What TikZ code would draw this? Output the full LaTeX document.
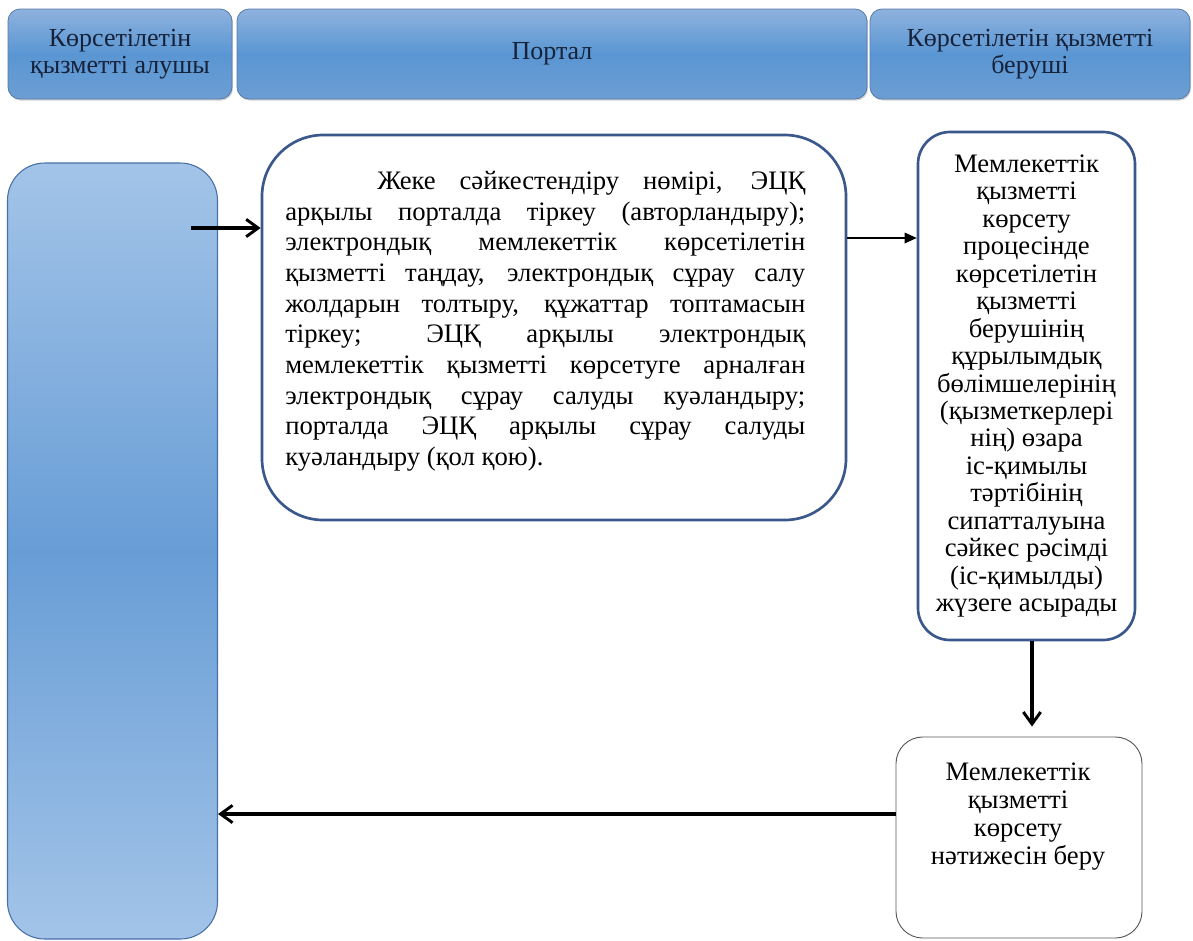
\documentclass[tikz,border=0pt]{standalone}
\usepackage{fontspec}
\setmainfont{Liberation Serif}
\usetikzlibrary{arrows.meta,shadows}
\definecolor{boxline}{RGB}{58,88,140}
\definecolor{hdtop}{RGB}{142,178,222}
\definecolor{hdmid}{RGB}{90,150,211}
\definecolor{hdbot}{RGB}{108,158,211}
\definecolor{hdline}{RGB}{88,122,168}
\definecolor{hdtext}{RGB}{22,34,58}
\definecolor{bartop}{RGB}{163,196,232}
\definecolor{barmid}{RGB}{104,157,214}
\definecolor{barline}{RGB}{72,112,168}
\newlength\tw
\setlength\tw{390pt}
\newcommand\jl[1]{\makebox[\tw][s]{#1}}
\begin{document}
\begin{tikzpicture}[x=0.75pt,y=-0.75pt,
  header/.style={draw=hdline, line width=0.6pt, rounded corners=9pt,
    top color=hdtop, bottom color=hdbot, middle color=hdmid,
    minimum height=67.5pt, inner sep=0pt, align=center,
    font=\fontsize{19.5pt}{20pt}\selectfont, text=hdtext,
    drop shadow={shadow xshift=0.8pt, shadow yshift=-1.2pt, opacity=0.35}},
  procbox/.style={draw=boxline, line width=2pt, fill=white, inner sep=0pt},
  thickarrow/.style={line width=2.4pt, -{Straight Barb[length=9pt,width=13pt,line width=2.2pt]}},
  thinarrow/.style={line width=0.9pt, -{Triangle[length=9pt,width=8pt]}}
]
\useasboundingbox (0,0) rectangle (1193,940);
% headers
\node[header, minimum width=168pt] (h1) at (120,54) {Көрсетілетін\\қызметті алушы};
\node[header, minimum width=472.5pt] (h2) at (552,54) {Портал};
\node[header, minimum width=240pt] (h3) at (1030,54) {Көрсетілетін қызметті\\беруші};
% left bar
\node[draw=barline, line width=0.8pt, rounded corners=28pt, top color=bartop, bottom color=bartop, middle color=barmid,
  minimum width=157.5pt, minimum height=582pt, inner sep=0pt] (bar) at (112.5,551) {};
% portal box
\node[procbox, rounded corners=46pt, minimum width=438pt, minimum height=288.75pt] (b2) at (554,327.5) {};
\node[anchor=north west, inner sep=0pt, align=left, font=\fontsize{20pt}{23pt}\selectfont] (t2) at (285,171) {%
\jl{\hspace*{69pt}Жеке сәйкестендіру нөмірі, ЭЦҚ}\\
\jl{арқылы порталда тіркеу (авторландыру);}\\
\jl{электрондық мемлекеттік көрсетілетін}\\
\jl{қызметті таңдау, электрондық сұрау салу}\\
\jl{жолдарын толтыру, құжаттар топтамасын}\\
\jl{тіркеу; ЭЦҚ арқылы электрондық}\\
\jl{мемлекеттік қызметті көрсетуге арналған}\\
\jl{электрондық сұрау салуды куәландыру;}\\
\jl{порталда ЭЦҚ арқылы сұрау салуды}\\
куәландыру (қол қою).};
% provider box
\node[procbox, rounded corners=24pt, minimum width=162.75pt, minimum height=381pt, align=center,
  font=\fontsize{20pt}{20.6pt}\selectfont] (b3) at (1026.5,386) {Мемлекеттік\\қызметті\\көрсету\\процесінде\\көрсетілетін\\қызметті\\берушінің\\құрылымдық\\бөлімшелерінің\\(қызметкерлері\\нің) өзара\\іс-қимылы\\тәртібінің\\сипатталуына\\сәйкес рәсімді\\(іс-қимылды)\\жүзеге асырады};
% result box
\node[draw=black!65, line width=0.7pt, fill=white, rounded corners=20pt, minimum width=184.5pt, minimum height=150.75pt, inner sep=0pt] (b4) at (1019,837.5) {};
\node[align=center, inner sep=0pt, font=\fontsize{20pt}{21pt}\selectfont] (t4) at (1018,817) {Мемлекеттік\\қызметті\\көрсету\\нәтижесін беру};
% connectors
\coordinate (a1) at (191,228);
\coordinate (a2) at (0,238);
\coordinate (a3) at (1032,0);
\coordinate (a4) at (0,814);
\draw[thickarrow] (a1) -- (a1 -| b2.west);
\draw[thinarrow] (a2 -| b2.east) -- (a2 -| b3.west);
\draw[thickarrow, shorten >=7.5pt] (a3 |- b3.south) -- (a3 |- b4.north);
\draw[thickarrow] (a4 -| b4.west) -- (a4 -| bar.east);
\end{tikzpicture}
\end{document}
